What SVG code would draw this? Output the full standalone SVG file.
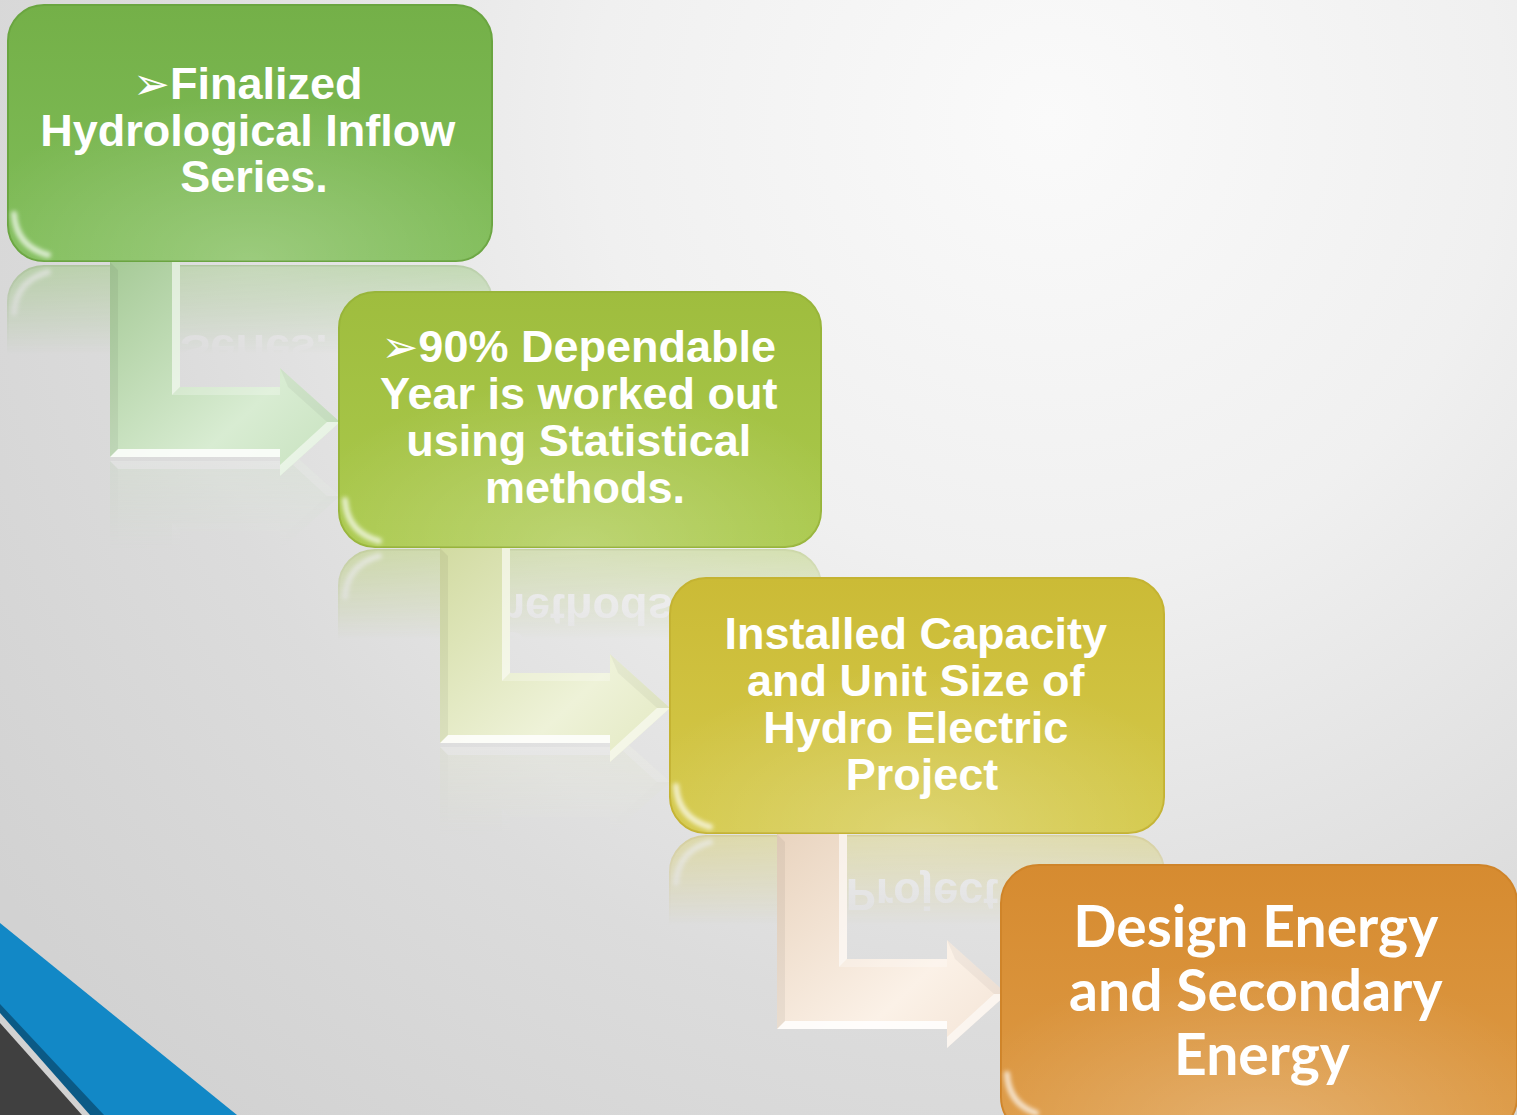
<svg xmlns="http://www.w3.org/2000/svg" xmlns:xlink="http://www.w3.org/1999/xlink" width="1517" height="1115" viewBox="0 0 1517 1115">
  <style>
    .lbl { font-family: "Liberation Sans", Arial, sans-serif; font-weight: 700; font-size: 45px; fill: #ffffff; text-anchor: middle; }
    .lbl-big { font-family: Lato, "Open Sans", sans-serif; font-weight: 700; font-size: 57px; fill: #ffffff; text-anchor: middle; }
    .bul { font-family: "DejaVu Sans", sans-serif; font-weight: 400; font-size: 44px; }
    .topline { fill: none; stroke: #ffffff; stroke-opacity: 0.45; stroke-width: 3; stroke-linecap: round; }
    .corner { fill: none; stroke: #ffffff; stroke-opacity: 0.7; stroke-width: 6; stroke-linecap: round; }
    .rim { fill: none; stroke: #ffffff; stroke-opacity: 0.25; stroke-width: 3; }
  </style>
  <defs>
    <radialGradient id="bg" gradientUnits="userSpaceOnUse" cx="1050" cy="120" r="1300">
      <stop offset="0" stop-color="#fafafa"/>
      <stop offset="0.35" stop-color="#f0f0f0"/>
      <stop offset="0.7" stop-color="#dcdcdc"/>
      <stop offset="1" stop-color="#d2d2d2"/>
    </radialGradient>

    <!-- box fills -->
    <linearGradient id="f1" x1="0" y1="0" x2="0" y2="1">
      <stop offset="0" stop-color="#74b048"/><stop offset="1" stop-color="#80bd59"/>
    </linearGradient>
    <linearGradient id="f2" x1="0" y1="0" x2="0" y2="1">
      <stop offset="0" stop-color="#9fbd3e"/><stop offset="1" stop-color="#aac94c"/>
    </linearGradient>
    <linearGradient id="f3" x1="0" y1="0" x2="0" y2="1">
      <stop offset="0" stop-color="#cbbb36"/><stop offset="1" stop-color="#d4c94a"/>
    </linearGradient>
    <linearGradient id="f4" x1="0" y1="0" x2="0" y2="1">
      <stop offset="0" stop-color="#d68b30"/><stop offset="1" stop-color="#dd9a45"/>
    </linearGradient>
    <radialGradient id="sheen" cx="0.5" cy="0.95" r="0.6" fx="0.5" fy="1">
      <stop offset="0" stop-color="#ffffff" stop-opacity="0.22"/>
      <stop offset="1" stop-color="#ffffff" stop-opacity="0"/>
    </radialGradient>

    <!-- connector fills -->
    <linearGradient id="a1" x1="0" y1="0" x2="1" y2="1">
      <stop offset="0" stop-color="#a6ca97"/><stop offset="0.65" stop-color="#d8ecd2"/><stop offset="1" stop-color="#c6e1bd"/>
    </linearGradient>
    <linearGradient id="a2" x1="0" y1="0" x2="1" y2="1">
      <stop offset="0" stop-color="#d2dba2"/><stop offset="0.65" stop-color="#eef2d8"/><stop offset="1" stop-color="#e2e8c0"/>
    </linearGradient>
    <linearGradient id="a3" x1="0" y1="0" x2="1" y2="1">
      <stop offset="0" stop-color="#e9d4bf"/><stop offset="0.65" stop-color="#fbf1e7"/><stop offset="1" stop-color="#f3e3d4"/>
    </linearGradient>

    <path id="arw" d="M0,0 H70 V125 H170 V106 L230,160 L170,214 V195 H0 Z"/>
    <g id="arw-bevel">
      <path d="M62,0 H70 V125 L62,133 Z" fill="#ffffff" opacity="0.6"/>
      <path d="M70,125 H170 V133 H62 Z" fill="#ffffff" opacity="0.25"/>
      <path d="M8,187 H170 V195 H0 Z" fill="#ffffff" opacity="0.85"/>
      <path d="M170,214 L230,160 L217,160 L170,203 Z" fill="#ffffff" opacity="0.55"/>
      <path d="M0,0 L8,8 V187 L0,195 Z" fill="#000000" opacity="0.05"/>
      <path d="M170,106 L230,160 L217,160 L178,125 Z" fill="#000000" opacity="0.04"/>
    </g>

    <filter id="soft" x="-10%" y="-50%" width="120%" height="200%">
      <feGaussianBlur stdDeviation="1.2"/>
    </filter>
    <filter id="glow" x="-50%" y="-50%" width="200%" height="200%">
      <feGaussianBlur stdDeviation="2"/>
    </filter>

    <!-- fading masks for the mirrored copies -->
    <linearGradient id="fadeY" x1="0" y1="0" x2="0" y2="1">
      <stop offset="0" stop-color="#ffffff" stop-opacity="0.4"/>
      <stop offset="1" stop-color="#ffffff" stop-opacity="0"/>
    </linearGradient>
    <mask id="m1" maskUnits="userSpaceOnUse" x="0" y="0" width="1517" height="1115">
      <rect x="0" y="264" width="520" height="90" fill="url(#fadeY)"/>
    </mask>
    <mask id="m2" maskUnits="userSpaceOnUse" x="0" y="0" width="1517" height="1115">
      <rect x="330" y="549" width="520" height="90" fill="url(#fadeY)"/>
    </mask>
    <mask id="m3" maskUnits="userSpaceOnUse" x="0" y="0" width="1517" height="1115">
      <rect x="660" y="835" width="520" height="90" fill="url(#fadeY)"/>
    </mask>
    <mask id="ma1" maskUnits="userSpaceOnUse" x="0" y="0" width="1517" height="1115">
      <rect x="100" y="459" width="260" height="90" fill="url(#fadeY)"/>
    </mask>
    <mask id="ma2" maskUnits="userSpaceOnUse" x="0" y="0" width="1517" height="1115">
      <rect x="430" y="745" width="260" height="90" fill="url(#fadeY)"/>
    </mask>
  </defs>

  <!-- backdrop -->
  <rect x="0" y="0" width="1517" height="1115" fill="url(#bg)"/>

  <!-- corner bands -->
  <g id="corner-bands">
    <polygon points="0,923 237,1115 0,1115" fill="#1288c6"/>
    <polygon points="0,1004 104,1115 0,1115" fill="#0b5a86"/>
    <polygon points="0,1013 90,1115 0,1115" fill="#d2d2d2"/>
    <polygon points="0,1023 82,1115 0,1115" fill="#404040"/>
  </g>

  <!-- mirrored reflections under the shapes -->
  <g id="reflections">
    <g mask="url(#m1)"><use xlink:href="#node-1" transform="matrix(1,0,0,-1,0,527)"/></g>
    <g mask="url(#m2)"><use xlink:href="#node-2" transform="matrix(1,0,0,-1,0,1097)"/></g>
    <g mask="url(#m3)"><use xlink:href="#node-3" transform="matrix(1,0,0,-1,0,1669)"/></g>
    <g mask="url(#ma1)" opacity="0.6"><use xlink:href="#conn-1" transform="matrix(1,0,0,-1,0,918)"/></g>
    <g mask="url(#ma2)" opacity="0.6"><use xlink:href="#conn-2" transform="matrix(1,0,0,-1,0,1490)"/></g>
  </g>

  <!-- bent connectors between steps -->
  <g id="connectors">
    <g id="conn-1" transform="translate(110,262)">
      <use xlink:href="#arw" fill="url(#a1)"/>
      <use xlink:href="#arw-bevel"/>
    </g>
    <g id="conn-2" transform="translate(440,548)">
      <use xlink:href="#arw" fill="url(#a2)"/>
      <use xlink:href="#arw-bevel"/>
    </g>
    <g id="conn-3" transform="translate(777,834)">
      <use xlink:href="#arw" fill="url(#a3)"/>
      <use xlink:href="#arw-bevel"/>
    </g>
  </g>

  <!-- step 1 -->
  <g id="node-1">
    <rect x="8" y="5" width="484" height="256" rx="36" fill="url(#f1)" stroke="#6aa540" stroke-width="2"/>
    <rect x="8" y="5" width="484" height="256" rx="36" fill="url(#sheen)"/>
    <path class="rim" d="M484,50 V220" filter="url(#soft)"/>
    <path class="topline" d="M46,15 H454" filter="url(#soft)"/>
    <path class="corner" d="M14,214 Q16,246 48,255" filter="url(#glow)"/>
    <text class="lbl">
      <tspan x="254" y="99"><tspan class="bul">➢</tspan>Finalized</tspan>
      <tspan x="254" y="146">Hydrological Inflow</tspan>
      <tspan x="254" y="192">Series.</tspan>
    </text>
  </g>

  <!-- step 2 -->
  <g id="node-2">
    <rect x="339" y="292" width="482" height="255" rx="36" fill="url(#f2)" stroke="#98b53a" stroke-width="2"/>
    <rect x="339" y="292" width="482" height="255" rx="36" fill="url(#sheen)"/>
    <path class="rim" d="M813,337 V507" filter="url(#soft)"/>
    <path class="topline" d="M377,302 H783" filter="url(#soft)"/>
    <path class="corner" d="M345,500 Q347,532 379,541" filter="url(#glow)"/>
    <text class="lbl">
      <tspan x="585" y="362"><tspan class="bul">➢</tspan>90% Dependable</tspan>
      <tspan x="585" y="409">Year is worked out</tspan>
      <tspan x="585" y="456">using Statistical</tspan>
      <tspan x="585" y="503">methods.</tspan>
    </text>
  </g>

  <!-- step 3 -->
  <g id="node-3">
    <rect x="670" y="578" width="494" height="255" rx="36" fill="url(#f3)" stroke="#c4b332" stroke-width="2"/>
    <rect x="670" y="578" width="494" height="255" rx="36" fill="url(#sheen)"/>
    <path class="rim" d="M1156,623 V793" filter="url(#soft)"/>
    <path class="topline" d="M708,588 H1126" filter="url(#soft)"/>
    <path class="corner" d="M676,786 Q678,818 710,827" filter="url(#glow)"/>
    <text class="lbl">
      <tspan x="922" y="649">Installed Capacity</tspan>
      <tspan x="922" y="696">and Unit Size of</tspan>
      <tspan x="922" y="743">Hydro Electric</tspan>
      <tspan x="922" y="790">Project</tspan>
    </text>
  </g>

  <!-- step 4 -->
  <g id="node-4">
    <rect x="1001" y="865" width="516" height="270" rx="38" fill="url(#f4)" stroke="#cf8429" stroke-width="2"/>
    <rect x="1001" y="865" width="516" height="270" rx="38" fill="url(#sheen)"/>
    <path class="topline" d="M1040,875 H1478" filter="url(#soft)"/>
    <path class="corner" d="M1007,1074 Q1009,1104 1036,1113" filter="url(#glow)"/>
    <text class="lbl-big">
      <tspan x="1262" y="947">Design Energy</tspan>
      <tspan x="1262" y="1011">and Secondary</tspan>
      <tspan x="1262" y="1075">Energy</tspan>
    </text>
  </g>
</svg>
